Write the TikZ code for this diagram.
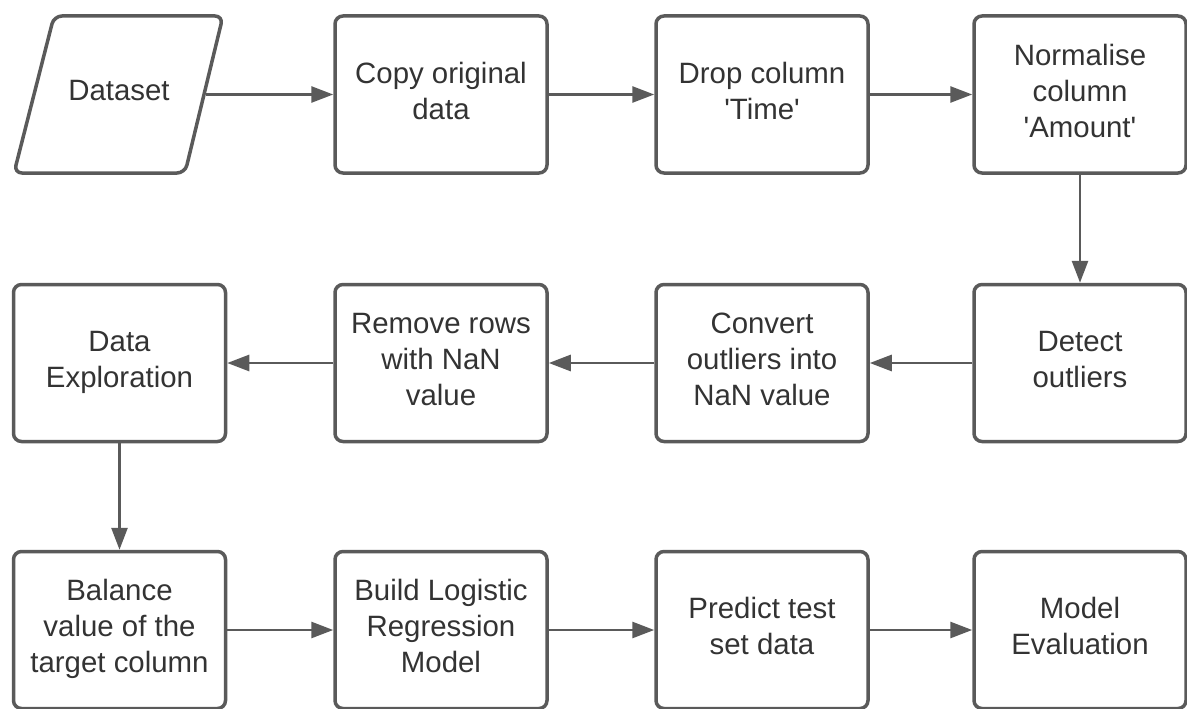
\documentclass[tikz,border=0pt]{standalone}
\usepackage{fontspec}
\setmainfont{Liberation Sans}
\usetikzlibrary{arrows.meta}

\definecolor{linegray}{HTML}{5A5A5A}
\definecolor{textgray}{HTML}{333333}

\tikzset{
  boxtext/.style={align=center, text=textgray, text depth=8pt,
    font=\fontsize{29.4}{36}\selectfont},
  stepbox/.style={boxtext, draw=linegray, line width=3.5pt, rounded corners=8pt, fill=white,
    minimum width=212pt, minimum height=157pt},
  % the input node is only text; its slanted frame is drawn below
  databox/.style={boxtext, minimum width=174pt, minimum height=157pt, inner sep=0pt},
  dataframe/.style={draw=linegray, line width=3.5pt, rounded corners=8pt},
  flow/.style={draw=linegray, line width=2.8pt, -{Triangle[length=22pt, width=16pt]}}
}

\begin{document}
\begin{tikzpicture}[x=1pt, y=-1pt]
\useasboundingbox (0,0) rectangle (1187,709);

% first row
\draw[dataframe] (54,16) -- (223,16) -- (185,173) -- (14,173) -- cycle;
\node[databox] (dataset) at (119,94.5) {Dataset};
\node[stepbox] (copy) at (441,94.5) {Copy original\\data};
\node[stepbox] (droptime) at (762,94.5) {Drop column\\\textquotesingle Time\textquotesingle};
\node[stepbox] (normamount) at (1080,94.5) {Normalise\\column\\\textquotesingle Amount\textquotesingle};

% second row, going back to the left
\node[stepbox] (detect) at (1080,363) {Detect\\outliers};
\node[stepbox] (convert) at (762,363) {Convert\\outliers into\\NaN value};
\node[stepbox] (removenan) at (441,363) {Remove rows\\with NaN\\value};
\node[stepbox] (explore) at (119.5,363) {Data\\Exploration};

% third row
\node[stepbox] (balance) at (119.5,630) {Balance\\value of the\\target column};
\node[stepbox] (buildlr) at (441,630) {Build Logistic\\Regression\\Model};
\node[stepbox] (predict) at (762,630) {Predict test\\set data};
\node[stepbox] (evaluate) at (1080,630) {Model\\Evaluation};

\draw[flow] (dataset) -- (copy);
\draw[flow] (copy) -- (droptime);
\draw[flow] (droptime) -- (normamount);
\draw[flow] (normamount) -- (detect);
\draw[flow] (detect) -- (convert);
\draw[flow] (convert) -- (removenan);
\draw[flow] (removenan) -- (explore);
\draw[flow] (explore) -- (balance);
\draw[flow] (balance) -- (buildlr);
\draw[flow] (buildlr) -- (predict);
\draw[flow] (predict) -- (evaluate);
\end{tikzpicture}
\end{document}
